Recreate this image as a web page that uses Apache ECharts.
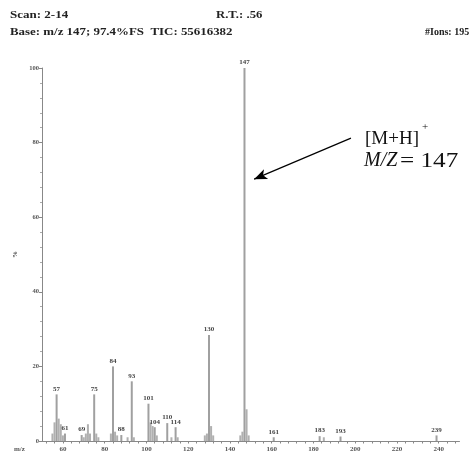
<!DOCTYPE html>
<html>
<head>
<meta charset="utf-8">
<script src="https://cdn.jsdelivr.net/npm/echarts@6/dist/echarts.min.js"></script>
<style>
html,body{margin:0;padding:0;background:#fff;}
#chart{width:471px;height:452px;}
</style>
</head>
<body>
<div id="chart"></div>
<script>
// Labeled peaks (m/z, relative abundance %)
const labeledMz  = [57, 61, 69, 75, 84, 88, 93, 101, 104, 110, 114, 130, 147, 161, 183, 193, 239];
const labeledPct = [12.5, 2, 1.6, 12.5, 20, 1.6, 16, 10, 3.7, 4.8, 3.7, 28.4, 100, 1, 1.3, 1.2, 1.5];
// Unlabeled minor peaks
const minorMz  = [55, 56, 58, 59, 60, 70, 71, 72, 73, 76, 77, 83, 85, 86, 91, 94, 102, 103, 105, 112, 115, 128, 129, 131, 132, 145, 146, 148, 149, 185];
const minorPct = [2, 5, 6, 4.5, 1.5, 1, 2, 4.5, 2, 2, 1, 2, 2.5, 1.5, 1, 1, 5, 4, 1.5, 1, 1, 1.5, 2, 4, 1.5, 1.5, 2.5, 8.5, 1.5, 1];
// Axis ticks
const xTickLabels = [60, 80, 100, 120, 140, 160, 180, 200, 220, 240];
const xMinorTicks = [52,56,60,64,68,72,76,80,84,88,92,96,100,104,108,112,116,120,124,128,132,136,140,144,148,152,156,160,164,168,172,176,180,184,188,192,196,200,204,208,212,216,220,224,228,232,236,240,244,248];
const yTickLabels = [0, 20, 40, 60, 80, 100];
// Annotation arrow (data coords: tail, head)
const arrowTail = [198, 81.2];
const arrowHead = [151.6, 70.2];

const chart = echarts.init(document.getElementById('chart'), null, {renderer: 'canvas'});

const serif = '"Liberation Serif", "Times New Roman", serif';

const minorData = minorMz.map((m, i) => [m, minorPct[i]]);
const labeledData = labeledMz.map((m, i) => ({
  value: [m, labeledPct[i]],
  label: {show: true}
}));

chart.setOption({
  animation: false,
  backgroundColor: '#fff',
  grid: {left: 42, right: 11.5, top: 68, bottom: 11, containLabel: false, outerBoundsMode: 'none'},
  xAxis: {
    type: 'value', min: 50, max: 250,
    axisLine: {lineStyle: {color: '#888', width: 1}},
    axisTick: {show: true, customValues: xMinorTicks, length: 2.5, lineStyle: {color: '#888'}},
    axisLabel: {customValues: xTickLabels, fontSize: 7, fontFamily: serif, fontWeight: 'bold', color: '#555', margin: 5},
    splitLine: {show: false}
  },
  yAxis: {
    type: 'value', min: 0, max: 100, interval: 20,
    name: '%', nameLocation: 'middle', nameGap: 15, nameRotate: 90,
    nameTextStyle: {fontSize: 7, fontFamily: serif, fontWeight: 'bold', color: '#444'},
    axisLine: {show: true, lineStyle: {color: '#888', width: 1}},
    axisTick: {show: true, length: 3, lineStyle: {color: '#888'}},
    minorTick: {show: true, splitNumber: 5, length: 2, lineStyle: {color: '#aaa'}},
    axisLabel: {fontSize: 6.5, fontFamily: serif, fontWeight: 'bold', color: '#555', margin: 3,
      formatter: v => yTickLabels.indexOf(v) >= 0 ? String(v) : ''},
    splitLine: {show: false}
  },
  series: [
    {
      type: 'bar', name: 'minor', data: minorData, barWidth: 2, barGap: '-100%',
      itemStyle: {color: '#b0b0b0'}, silent: true
    },
    {
      type: 'bar', name: 'labeled', data: labeledData, barWidth: 2, barGap: '-100%',
      itemStyle: {color: '#a0a0a0'}, silent: true,
      label: {
        show: true, position: 'top', distance: 2,
        fontSize: 7, fontFamily: serif, fontWeight: 'bold', color: '#444',
        formatter: p => String(p.value[0])
      },
      markLine: {
        silent: true, symbol: ['none', 'arrow'], symbolSize: [8, 13],
        label: {show: false},
        lineStyle: {color: '#000', width: 1.2, type: 'solid'},
        data: [[{coord: arrowTail, symbol: 'none'}, {coord: arrowHead, symbol: 'arrow'}]]
      }
    }
  ],
  graphic: [
    {type: 'text', x: 10, y: 15, scaleX: 1.3, style: {text: 'Scan: 2-14', font: 'bold 10px ' + serif, fill: '#222', verticalAlign: 'middle'}},
    {type: 'text', x: 216, y: 15, scaleX: 1.27, style: {text: 'R.T.: .56', font: 'bold 10px ' + serif, fill: '#222', verticalAlign: 'middle'}},
    {type: 'text', x: 10, y: 32, scaleX: 1.29, style: {text: 'Base: m/z 147; 97.4%FS  TIC: 55616382', font: 'bold 10px ' + serif, fill: '#222', verticalAlign: 'middle'}},
    {type: 'text', x: 425, y: 32, scaleX: 1.0, style: {text: '#Ions: 195', font: 'bold 10px ' + serif, fill: '#222', verticalAlign: 'middle'}},
    {type: 'text', x: 14, y: 449, style: {text: 'm/z', font: 'bold 7px ' + serif, fill: '#555', verticalAlign: 'middle'}},
    {type: 'text', x: 365, y: 139, style: {text: '[M+H]', font: '19px ' + serif, fill: '#111', verticalAlign: 'middle'}},
    {type: 'text', x: 422, y: 127, style: {text: '+', font: '11px ' + serif, fill: '#111', verticalAlign: 'middle'}},
    {type: 'text', x: 364, y: 161, style: {text: 'M/Z', font: 'italic 20px ' + serif, fill: '#111', verticalAlign: 'middle'}},
    {type: 'text', x: 400, y: 161, scaleX: 1.2, style: {text: '= 147', font: '21px ' + serif, fill: '#111', verticalAlign: 'middle'}}
  ]
});
</script>
</body>
</html>
